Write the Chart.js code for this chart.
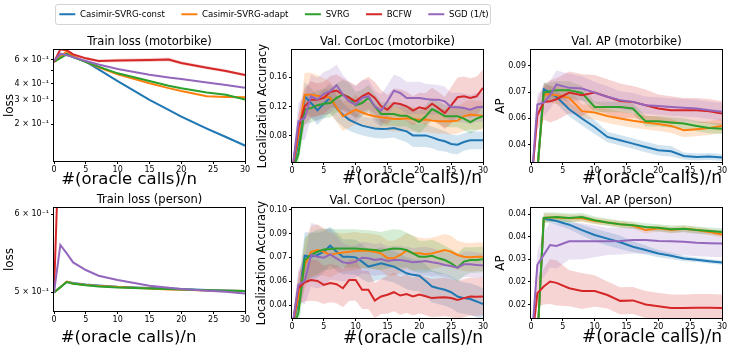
<!DOCTYPE html>
<html>
<head>
<meta charset="utf-8">
<script src="https://cdn.jsdelivr.net/npm/chart.js"></script>
<style>
  html, body { margin: 0; padding: 0; background: #fff; }
  body { width: 731px; height: 349px; position: relative; overflow: hidden; }
  canvas { position: absolute; }
  #legendBox { position: absolute; left: 55px; top: 4px; width: 434px; height: 19px;
               border: 1px solid #d4d4d4; border-radius: 3px; }
</style>
</head>
<body>
<div id="legendBox"></div>
<canvas id="legend"></canvas>
<canvas id="p1"></canvas>
<canvas id="p2"></canvas>
<canvas id="p3"></canvas>
<canvas id="p4"></canvas>
<canvas id="p5"></canvas>
<canvas id="p6"></canvas>
<script>
const seriesNames = ["Casimir-SVRG-const", "Casimir-SVRG-adapt", "SVRG", "BCFW", "SGD (1/t)"];
const seriesColors = ["#1f77b4", "#ff7f0e", "#2ca02c", "#d62728", "#9467bd"];
const bandColors = ["rgba(31,119,180,0.2)", "rgba(255,127,14,0.2)", "rgba(44,160,44,0.2)",
                    "rgba(214,39,40,0.2)", "rgba(148,103,189,0.2)"];

const xTicks = [0, 5, 10, 15, 20, 25, 30];
const lossX = [0, 1, 2, 3, 5, 7, 10, 15, 18, 20, 24, 27, 30];
const corlocX = [0, 1, 2, 3, 4, 5, 6, 7, 8, 9, 10, 11, 12, 13, 14, 15, 16, 17, 18, 19, 20,
                 21, 22, 23, 24, 25, 26, 27, 28, 29, 30];
const apX = [0, 1, 2, 3, 4, 6, 8, 10, 12, 14, 16, 18, 20, 22, 24, 26, 28, 30];

// Train loss (motorbike)
const lmConst = [0.58, 0.66, 0.67, 0.63, 0.583, 0.51, 0.418, 0.302, 0.255, 0.227, 0.185, 0.160, 0.138];
const lmAdapt = [0.58, 0.63, 0.70, 0.64, 0.58, 0.53, 0.469, 0.402, 0.37, 0.352, 0.322, 0.318, 0.316];
const lmSvrg = [0.58, 0.62, 0.66, 0.63, 0.58, 0.535, 0.477, 0.418, 0.385, 0.369, 0.343, 0.33, 0.305];
const lmBcfw = [0.58, 0.72, 0.71, 0.66, 0.617, 0.59, 0.594, 0.6, 0.605, 0.57, 0.526, 0.497, 0.464];
const lmSgd = [0.59, 0.67, 0.65, 0.63, 0.59, 0.555, 0.514, 0.466, 0.445, 0.433, 0.408, 0.39, 0.373];
const lmConstStd = [0.003, 0.004, 0.004, 0.004, 0.004, 0.004, 0.004, 0.003, 0.003, 0.003, 0.003, 0.003, 0.004];
const lmAdaptStd = [0.003, 0.004, 0.004, 0.004, 0.003, 0.003, 0.003, 0.003, 0.003, 0.003, 0.003, 0.003, 0.003];
const lmSvrgStd = [0.003, 0.004, 0.004, 0.004, 0.003, 0.003, 0.003, 0.003, 0.003, 0.003, 0.003, 0.003, 0.003];
const lmBcfwStd = [0.005, 0.012, 0.015, 0.015, 0.015, 0.016, 0.018, 0.02, 0.02, 0.018, 0.015, 0.013, 0.012];
const lmSgdStd = [0.003, 0.004, 0.004, 0.004, 0.003, 0.003, 0.003, 0.003, 0.003, 0.003, 0.003, 0.003, 0.003];
const lmTicks = [0.2, 0.3, 0.4, 0.5, 0.6];
const lmTickLabels = ["2 × 10⁻¹", "3 × 10⁻¹", "4 × 10⁻¹", "", "6 × 10⁻¹"];

// Val. CorLoc (motorbike)
const cmConst = [0.03, 0.07, 0.134, 0.125, 0.115, 0.124, 0.132, 0.118, 0.109, 0.102, 0.0977, 0.094, 0.092,
  0.090, 0.0894, 0.0899, 0.0908, 0.0885, 0.0862, 0.0807, 0.0807, 0.0807, 0.078, 0.0748, 0.0726, 0.0689,
  0.068, 0.0717, 0.0739, 0.0739, 0.0739];
const cmAdapt = [0.03, 0.08, 0.1364, 0.1364, 0.135, 0.134, 0.132, 0.119, 0.1068, 0.111, 0.1159, 0.112, 0.109,
  0.107, 0.1054, 0.1045, 0.103, 0.103, 0.104, 0.103, 0.102, 0.1025, 0.1009, 0.0999, 0.0999, 0.0999,
  0.1009, 0.1068, 0.1091, 0.1082, 0.1077];
const cmSvrg = [0.03, 0.055, 0.116, 0.118, 0.122, 0.124, 0.125, 0.132, 0.1364, 0.1327, 0.1218, 0.125, 0.1319,
  0.1205, 0.110, 0.110, 0.110, 0.1077, 0.1077, 0.1032, 0.099, 0.1068, 0.1168, 0.1123, 0.1068, 0.1068,
  0.1068, 0.1036, 0.099, 0.1036, 0.1068];
const cmBcfw = [0.03, 0.0908, 0.1205, 0.1296, 0.1296, 0.1319, 0.14, 0.1419, 0.1364, 0.1319, 0.1273, 0.1342,
  0.1387, 0.1319, 0.1205, 0.1159, 0.125, 0.1237, 0.1205, 0.1145, 0.119, 0.1168, 0.124, 0.118, 0.1113,
  0.1218, 0.1328, 0.1342, 0.1319, 0.1342, 0.1456];
const cmSgd = [0.03, 0.0999, 0.1045, 0.1342, 0.1296, 0.1374, 0.141, 0.1492, 0.1364, 0.1273, 0.1227, 0.1319,
  0.1342, 0.1205, 0.1145, 0.1273, 0.1419, 0.1387, 0.1319, 0.1319, 0.1319, 0.1305, 0.1296, 0.1296, 0.1273,
  0.1191, 0.1191, 0.1182, 0.1159, 0.1191, 0.1195];
const cmConstStd = [0.005, 0.015, 0.02, 0.02, 0.02, 0.02, 0.02, 0.018, 0.016, 0.015, 0.014, 0.013, 0.013,
  0.013, 0.013, 0.013, 0.013, 0.014, 0.015, 0.016, 0.016, 0.016, 0.015, 0.015, 0.014, 0.013, 0.013, 0.012,
  0.012, 0.012, 0.012];
const cmAdaptStd = [0.005, 0.02, 0.03, 0.03, 0.028, 0.025, 0.022, 0.02, 0.02, 0.02, 0.02, 0.018, 0.017,
  0.017, 0.017, 0.017, 0.017, 0.017, 0.017, 0.017, 0.017, 0.017, 0.017, 0.017, 0.017, 0.018, 0.018, 0.02,
  0.02, 0.02, 0.02];
const cmSvrgStd = [0.005, 0.015, 0.02, 0.02, 0.02, 0.02, 0.02, 0.02, 0.02, 0.02, 0.018, 0.018, 0.018,
  0.017, 0.016, 0.016, 0.016, 0.015, 0.015, 0.015, 0.015, 0.015, 0.015, 0.015, 0.015, 0.015, 0.015, 0.016,
  0.016, 0.016, 0.016];
const cmBcfwStd = [0.005, 0.02, 0.025, 0.025, 0.022, 0.022, 0.022, 0.022, 0.022, 0.022, 0.022, 0.022, 0.022,
  0.022, 0.022, 0.02, 0.02, 0.02, 0.02, 0.02, 0.02, 0.022, 0.022, 0.022, 0.022, 0.025, 0.027, 0.027,
  0.027, 0.027, 0.025];
const cmSgdStd = [0.005, 0.025, 0.03, 0.03, 0.03, 0.03, 0.03, 0.028, 0.027, 0.026, 0.025, 0.024, 0.023,
  0.022, 0.022, 0.022, 0.022, 0.022, 0.022, 0.022, 0.022, 0.021, 0.021, 0.02, 0.02, 0.02, 0.02, 0.02,
  0.02, 0.02, 0.02];
const cmTicks = [0.08, 0.12, 0.16];
const cmTickLabels = ["0.08", "0.12", "0.16"];

// Val. AP (motorbike)
const amConst = [0.02, 0.03, 0.0767, 0.0745, 0.0723, 0.0652, 0.0599, 0.0551, 0.0494, 0.0475, 0.0456, 0.0437,
  0.0418, 0.0412, 0.0385, 0.038, 0.0383, 0.0376];
const amAdapt = [0.02, 0.03, 0.0736, 0.0738, 0.0732, 0.0717, 0.0641, 0.0633, 0.0614, 0.0599, 0.0586, 0.0576,
  0.0568, 0.0557, 0.0532, 0.0538, 0.0545, 0.0557];
const amSvrg = [0.02, 0.03, 0.0747, 0.0755, 0.0761, 0.0761, 0.0745, 0.0665, 0.0665, 0.0665, 0.0656, 0.0583,
  0.0583, 0.0576, 0.057, 0.0557, 0.0545, 0.0541];
const amBcfw = [0.02, 0.0618, 0.0694, 0.0697, 0.0709, 0.0747, 0.0732, 0.0747, 0.0723, 0.0699, 0.0694, 0.0675,
  0.0656, 0.0646, 0.0646, 0.0646, 0.064, 0.0627];
const amSgd = [0.02, 0.0679, 0.069, 0.0733, 0.0793, 0.0774, 0.077, 0.0747, 0.0723, 0.0704, 0.0694, 0.0675,
  0.0671, 0.0665, 0.066, 0.0656, 0.0646, 0.0637];
const amConstStd = [0.002, 0.003, 0.004, 0.004, 0.004, 0.004, 0.004, 0.004, 0.003, 0.003, 0.003, 0.003,
  0.003, 0.003, 0.002, 0.002, 0.002, 0.002];
const amAdaptStd = [0.002, 0.003, 0.005, 0.005, 0.005, 0.005, 0.004, 0.004, 0.004, 0.004, 0.004, 0.004,
  0.004, 0.004, 0.004, 0.004, 0.004, 0.004];
const amSvrgStd = [0.002, 0.003, 0.005, 0.005, 0.005, 0.005, 0.004, 0.003, 0.003, 0.003, 0.003, 0.003,
  0.003, 0.003, 0.003, 0.003, 0.003, 0.003];
const amBcfwStd = [0.003, 0.008, 0.01, 0.012, 0.012, 0.012, 0.012, 0.01, 0.01, 0.01, 0.009, 0.009,
  0.008, 0.008, 0.007, 0.007, 0.007, 0.007];
const amSgdStd = [0.003, 0.006, 0.008, 0.008, 0.008, 0.008, 0.007, 0.006, 0.006, 0.005, 0.005, 0.005,
  0.005, 0.005, 0.005, 0.005, 0.005, 0.005];
const amTicks = [0.045, 0.06, 0.075, 0.09];
const amTickLabels = ["0.04", "0.06", "0.07", "0.09"];

// Train loss (person)
const lpConst = [0.5, 0.506, 0.5126, 0.511, 0.5092, 0.508, 0.5066, 0.5052, 0.5045, 0.504, 0.5028, 0.5022, 0.5016];
const lpAdapt = [0.5, 0.506, 0.5128, 0.5105, 0.5088, 0.5075, 0.5062, 0.5045, 0.5035, 0.5032, 0.5022, 0.502, 0.5016];
const lpSvrg = [0.5, 0.506, 0.5122, 0.5102, 0.5084, 0.507, 0.5058, 0.5045, 0.504, 0.5035, 0.5025, 0.502, 0.5016];
const lpBcfw = [0.5, 0.78, 0.77, 0.76, 0.75, 0.74, 0.73, 0.72, 0.71, 0.71, 0.70, 0.70, 0.70];
const lpSgd = [0.5, 0.5586, 0.5477, 0.5363, 0.5268, 0.5199, 0.5147, 0.5078, 0.5055, 0.5039, 0.502, 0.5008, 0.4988];
const lpConstStd = [0.0004, 0.0005, 0.0005, 0.0005, 0.0005, 0.0005, 0.0005, 0.0005, 0.0005, 0.0005, 0.0005, 0.0005, 0.0005];
const lpAdaptStd = [0.0004, 0.0005, 0.0005, 0.0005, 0.0005, 0.0005, 0.0005, 0.0005, 0.0005, 0.0005, 0.0005, 0.0005, 0.0005];
const lpSvrgStd = [0.0004, 0.0005, 0.0005, 0.0005, 0.0005, 0.0005, 0.0005, 0.0005, 0.0005, 0.0005, 0.0005, 0.0005, 0.0005];
const lpBcfwStd = [0.002, 0.01, 0.01, 0.01, 0.01, 0.01, 0.01, 0.01, 0.01, 0.01, 0.01, 0.01, 0.01];
const lpSgdStd = [0.0004, 0.001, 0.001, 0.001, 0.001, 0.001, 0.001, 0.001, 0.001, 0.001, 0.001, 0.001, 0.001];
const lpTicks = [0.5, 0.6];
const lpTickLabels = ["5 × 10⁻¹", "6 × 10⁻¹"];

// Val. CorLoc (person)
const cpConst = [0.025, 0.0423, 0.071, 0.0704, 0.0715, 0.0735, 0.0773, 0.0735, 0.0704, 0.0704, 0.07, 0.0673,
  0.0642, 0.0652, 0.0663, 0.0652, 0.0642, 0.0621, 0.06, 0.059, 0.0585, 0.0552, 0.0517, 0.0506, 0.0496,
  0.0481, 0.0454, 0.0444, 0.0438, 0.0423, 0.0406];
const cpAdapt = [0.025, 0.045, 0.0652, 0.0735, 0.0746, 0.0735, 0.0715, 0.0725, 0.0731, 0.0735, 0.074, 0.0742,
  0.0742, 0.0735, 0.0725, 0.0694, 0.0694, 0.0715, 0.0742, 0.0725, 0.0725, 0.0719, 0.0725, 0.0735, 0.0746,
  0.0735, 0.0715, 0.0704, 0.07, 0.0704, 0.0704];
const cpSvrg = [0.025, 0.035, 0.0683, 0.0715, 0.0735, 0.075, 0.0752, 0.0756, 0.0756, 0.0756, 0.0756, 0.0752,
  0.075, 0.0746, 0.074, 0.075, 0.0756, 0.0754, 0.0746, 0.0725, 0.0704, 0.0704, 0.071, 0.0694, 0.0683,
  0.0663, 0.0635, 0.0673, 0.0683, 0.0683, 0.0688];
const cpBcfw = [0.025, 0.0506, 0.0544, 0.0558, 0.0552, 0.0527, 0.0538, 0.0531, 0.0506, 0.0558, 0.0558, 0.0496,
  0.0496, 0.0429, 0.0454, 0.0465, 0.0481, 0.046, 0.047, 0.0454, 0.0467, 0.0456, 0.0444, 0.0448, 0.045,
  0.0444, 0.0433, 0.0444, 0.0454, 0.0452, 0.0454];
const cpSgd = [0.025, 0.0527, 0.0552, 0.0715, 0.0704, 0.0698, 0.0719, 0.0694, 0.0669, 0.0663, 0.0673, 0.0698,
  0.0694, 0.0683, 0.069, 0.0677, 0.0683, 0.0683, 0.0677, 0.0669, 0.0673, 0.0677, 0.0669, 0.0663, 0.0652,
  0.0646, 0.0635, 0.0656, 0.0656, 0.0652, 0.0648];
const cpConstStd = [0.003, 0.01, 0.015, 0.015, 0.014, 0.013, 0.012, 0.012, 0.011, 0.011, 0.011, 0.011, 0.01,
  0.01, 0.01, 0.01, 0.01, 0.01, 0.01, 0.01, 0.01, 0.01, 0.01, 0.01, 0.01, 0.01, 0.01, 0.01, 0.01, 0.01, 0.01];
const cpAdaptStd = [0.003, 0.01, 0.015, 0.016, 0.016, 0.015, 0.014, 0.013, 0.012, 0.012, 0.012, 0.011, 0.011,
  0.011, 0.011, 0.011, 0.011, 0.011, 0.011, 0.011, 0.01, 0.01, 0.01, 0.01, 0.01, 0.01, 0.009, 0.009, 0.009,
  0.009, 0.009];
const cpSvrgStd = [0.003, 0.01, 0.014, 0.014, 0.014, 0.013, 0.013, 0.012, 0.012, 0.012, 0.012, 0.012, 0.012,
  0.012, 0.012, 0.012, 0.012, 0.012, 0.011, 0.011, 0.01, 0.01, 0.01, 0.01, 0.009, 0.009, 0.009, 0.009,
  0.008, 0.008, 0.008];
const cpBcfwStd = [0.003, 0.01, 0.012, 0.013, 0.013, 0.012, 0.012, 0.012, 0.012, 0.013, 0.013, 0.012, 0.012,
  0.011, 0.011, 0.012, 0.012, 0.012, 0.012, 0.012, 0.012, 0.012, 0.012, 0.012, 0.012, 0.012, 0.012, 0.012,
  0.012, 0.012, 0.012];
const cpSgdStd = [0.003, 0.01, 0.015, 0.02, 0.02, 0.018, 0.016, 0.014, 0.012, 0.011, 0.01, 0.01, 0.01,
  0.01, 0.01, 0.009, 0.009, 0.009, 0.009, 0.009, 0.009, 0.009, 0.009, 0.008, 0.008, 0.008, 0.008, 0.008,
  0.008, 0.008, 0.008];
const cpTicks = [0.04, 0.055, 0.07, 0.085, 0.1];
const cpTickLabels = ["0.04", "0.06", "0.07", "0.09", "0.10"];

// Val. AP (person)
const apConst = [0.01, 0.012, 0.039, 0.0388, 0.0385, 0.0377, 0.0365, 0.0354, 0.0346, 0.0338, 0.0328, 0.0321,
  0.0313, 0.0308, 0.0302, 0.0299, 0.0296, 0.0293];
const apAdapt = [0.01, 0.012, 0.0392, 0.0393, 0.0393, 0.0391, 0.0391, 0.0385, 0.0382, 0.0378, 0.0375, 0.0365,
  0.0369, 0.0365, 0.0368, 0.0365, 0.0361, 0.0355];
const apSvrg = [0.01, 0.012, 0.0392, 0.0393, 0.0394, 0.0392, 0.0394, 0.0387, 0.0382, 0.0378, 0.0376, 0.0372,
  0.037, 0.0367, 0.0368, 0.0365, 0.0363, 0.0361];
const apBcfw = [0.01, 0.0225, 0.024, 0.0251, 0.0248, 0.0236, 0.023, 0.023, 0.0221, 0.0208, 0.0209, 0.02,
  0.0196, 0.0192, 0.0192, 0.0193, 0.0193, 0.0192];
const apSgd = [0.01, 0.0288, 0.031, 0.0332, 0.033, 0.034, 0.034, 0.034, 0.034, 0.0341, 0.0343, 0.0343,
  0.0341, 0.034, 0.0339, 0.0337, 0.0336, 0.0335];
const apConstStd = [0.0005, 0.001, 0.0005, 0.0006, 0.0008, 0.001, 0.0012, 0.0014, 0.0015, 0.0015, 0.0012,
  0.001, 0.0008, 0.0007, 0.0006, 0.0005, 0.0005, 0.0005];
const apAdaptStd = [0.0005, 0.001, 0.001, 0.0009, 0.0008, 0.0008, 0.0008, 0.0007, 0.0007, 0.0007, 0.0007,
  0.0007, 0.0007, 0.0007, 0.0007, 0.0007, 0.0007, 0.0007];
const apSvrgStd = [0.0005, 0.001, 0.0012, 0.0011, 0.001, 0.001, 0.0009, 0.0008, 0.0008, 0.0008, 0.0008,
  0.0008, 0.0008, 0.0008, 0.0008, 0.0008, 0.0008, 0.0008];
const apBcfwStd = [0.001, 0.003, 0.004, 0.005, 0.005, 0.004, 0.004, 0.0035, 0.003, 0.003, 0.003, 0.003,
  0.003, 0.003, 0.003, 0.003, 0.003, 0.003];
const apSgdStd = [0.001, 0.003, 0.005, 0.005, 0.005, 0.004, 0.004, 0.0035, 0.003, 0.003, 0.003, 0.003,
  0.003, 0.003, 0.003, 0.003, 0.003, 0.003];
const apTicks = [0.02, 0.025, 0.03, 0.035, 0.04];
const apTickLabels = ["0.02", "0.02", "0.03", "0.04", "0.04"];

const FONT = "'DejaVu Sans', sans-serif";
const TITLE_SIZE = 11.5;
const TICK_SIZE = 8;
const XLABEL = "#(oracle calls)/n";

const panels = [
  { id: "p1", title: "Train loss (motorbike)", ylabel: "loss", ylabelSize: 12, x: lossX,
    means: [lmConst, lmAdapt, lmSvrg, lmBcfw, lmSgd], stds: [lmConstStd, lmAdaptStd, lmSvrgStd, lmBcfwStd, lmSgdStd],
    yType: "logarithmic", yMin: 0.106, yMax: 0.712, yTicks: lmTicks, yTickLabels: lmTickLabels,
    plot: [54, 50, 245, 161], titleY: 42.5, xlabelX: 129, xlabelY: 180, xlabelSize: 16.5, ylabelX: 10 },
  { id: "p2", title: "Val. CorLoc (motorbike)", ylabel: "Localization Accuracy", ylabelSize: 11.5, x: corlocX,
    means: [cmConst, cmAdapt, cmSvrg, cmBcfw, cmSgd], stds: [cmConstStd, cmAdaptStd, cmSvrgStd, cmBcfwStd, cmSgdStd],
    yType: "linear", yMin: 0.0443, yMax: 0.1975, yTicks: cmTicks, yTickLabels: cmTickLabels,
    plot: [292, 50, 483, 162], titleY: 42.5, xlabelX: 412, xlabelY: 178.5, xlabelSize: 17, ylabelX: 263 },
  { id: "p3", title: "Val. AP (motorbike)", ylabel: "AP", ylabelSize: 12, x: apX,
    means: [amConst, amAdapt, amSvrg, amBcfw, amSgd], stds: [amConstStd, amAdaptStd, amSvrgStd, amBcfwStd, amSgdStd],
    yType: "linear", yMin: 0.0351, yMax: 0.099, yTicks: amTicks, yTickLabels: amTickLabels,
    plot: [531, 50, 722, 162], titleY: 42.5, xlabelX: 652, xlabelY: 178.5, xlabelSize: 17, ylabelX: 501 },
  { id: "p4", title: "Train loss (person)", ylabel: "loss", ylabelSize: 12, x: lossX,
    means: [lpConst, lpAdapt, lpSvrg, lpBcfw, lpSgd], stds: [lpConstStd, lpAdaptStd, lpSvrgStd, lpBcfwStd, lpSgdStd],
    yType: "logarithmic", yMin: 0.4787, yMax: 0.609, yTicks: lpTicks, yTickLabels: lpTickLabels,
    plot: [54, 208, 245, 311], titleY: 200, xlabelX: 128.5, xlabelY: 338, xlabelSize: 16.5, ylabelX: 10 },
  { id: "p5", title: "Val. CorLoc (person)", ylabel: "Localization Accuracy", ylabelSize: 11.5, x: corlocX,
    means: [cpConst, cpAdapt, cpSvrg, cpBcfw, cpSgd], stds: [cpConstStd, cpAdaptStd, cpSvrgStd, cpBcfwStd, cpSgdStd],
    yType: "linear", yMin: 0.0319, yMax: 0.101, yTicks: cpTicks, yTickLabels: cpTickLabels,
    plot: [292, 208, 483, 318], titleY: 201, xlabelX: 413, xlabelY: 339, xlabelSize: 17, ylabelX: 262 },
  { id: "p6", title: "Val. AP (person)", ylabel: "AP", ylabelSize: 12, x: apX,
    means: [apConst, apAdapt, apSvrg, apBcfw, apSgd], stds: [apConstStd, apAdaptStd, apSvrgStd, apBcfwStd, apSgdStd],
    yType: "linear", yMin: 0.017, yMax: 0.0414, yTicks: apTicks, yTickLabels: apTickLabels,
    plot: [531, 208, 722, 318], titleY: 201, xlabelX: 652, xlabelY: 338, xlabelSize: 17, ylabelX: 501 }
];

// black box round the plot area (matplotlib spines) and the x label,
// which sits off-centre in the original figure
const framePlugin = {
  id: "frame",
  afterDraw(chart) {
    const { ctx, chartArea: a } = chart;
    const l = Math.round(a.left), t = Math.round(a.top);
    const r = Math.round(a.right), b = Math.round(a.bottom);
    ctx.save();
    ctx.strokeStyle = "#000";
    ctx.lineWidth = 1;
    ctx.strokeRect(l - 0.5, t - 0.5, r - l + 1, b - t + 1);
    const lab = chart.options.plugins.frame;
    ctx.fillStyle = "#000";
    ctx.font = lab.size + "px " + FONT;
    ctx.textAlign = "center";
    ctx.textBaseline = "middle";
    ctx.fillText(lab.text, lab.x, lab.y);
    ctx.restore();
  }
};

function buildPanel(p) {
  const canvas = document.getElementById(p.id);
  const titleLh = TITLE_SIZE * 1.2, xlLh = p.xlabelSize * 1.2, ylLh = p.ylabelSize * 1.2;
  const [pl, pt, pr, pb] = p.plot;
  const left = Math.round(p.ylabelX - ylLh / 2);
  const L = pl - left;
  const top = Math.floor(p.titleY - titleLh / 2 - 2);
  const padTop = p.titleY - titleLh / 2 - top;
  const padBottom = Math.max(0, pt - (p.titleY + titleLh / 2));
  const bottom = Math.round(p.xlabelY + xlLh / 2);
  const B = bottom - pb;
  canvas.width = pr - pl + 2 * L;
  canvas.height = bottom - top;
  canvas.style.left = left + "px";
  canvas.style.top = top + "px";

  const datasets = [];
  p.means.forEach((m, i) => {
    datasets.push({
      label: seriesNames[i],
      data: p.x.map((xv, k) => ({ x: xv, y: m[k] })),
      borderColor: seriesColors[i], borderWidth: 2, pointRadius: 0, fill: false, order: 5 - i
    });
  });
  p.means.forEach((m, i) => {
    const s = p.stds[i];
    datasets.push({
      data: p.x.map((xv, k) => ({ x: xv, y: m[k] + s[k] })),
      borderColor: "rgba(0,0,0,0)", borderWidth: 0, pointRadius: 0,
      backgroundColor: bandColors[i], fill: "+1", order: 20 - i
    });
    datasets.push({
      data: p.x.map((xv, k) => ({ x: xv, y: m[k] - s[k] })),
      borderColor: "rgba(0,0,0,0)", borderWidth: 0, pointRadius: 0, fill: false, order: 20 - i
    });
  });

  const tickFont = { family: FONT, size: TICK_SIZE };
  const gridOpts = { drawOnChartArea: false, drawTicks: true, tickLength: 3, color: "#000" };

  new Chart(canvas, {
    type: "line",
    data: { datasets: datasets },
    options: {
      responsive: false,
      animation: false,
      events: [],
      layout: { padding: { left: 0, right: L, top: 0, bottom: 0 } },
      plugins: {
        legend: { display: false },
        tooltip: { enabled: false },
        title: {
          display: true, text: p.title, color: "#000", fullSize: false,
          font: { family: FONT, size: TITLE_SIZE, weight: "normal", lineHeight: 1.2 },
          padding: { top: padTop, bottom: padBottom }
        },
        frame: { text: XLABEL, size: p.xlabelSize, x: p.xlabelX - left, y: p.xlabelY - top }
      },
      scales: {
        x: {
          type: "linear", min: 0, max: 30,
          afterFit: s => { s.height = B; },
          afterBuildTicks: s => { s.ticks = xTicks.map(v => ({ value: v })); },
          ticks: { font: tickFont, color: "#000", padding: 1, maxRotation: 0, autoSkip: false },
          grid: gridOpts,
          border: { display: false }
        },
        y: {
          type: p.yType, min: p.yMin, max: p.yMax,
          afterFit: s => { s.width = L; },
          afterBuildTicks: s => { s.ticks = p.yTicks.map(v => ({ value: v })); },
          ticks: { font: tickFont, color: "#000", padding: 2, autoSkip: false,
                   callback: (v, i) => p.yTickLabels[i] },
          grid: gridOpts,
          border: { display: false },
          title: { display: true, text: p.ylabel, color: "#000",
                   font: { family: FONT, size: p.ylabelSize, lineHeight: 1.2 }, padding: 0 }
        }
      }
    },
    plugins: [framePlugin]
  });
}

panels.forEach(buildPanel);

// legend strip on top
const LEGEND_SIZE = 9.5;
const LEGEND_PAD = 16.5;
const legendCanvas = document.getElementById("legend");
legendCanvas.width = 600;
legendCanvas.height = 120;
legendCanvas.style.left = (273.5 - 300) + "px";
legendCanvas.style.top = (14.5 - LEGEND_PAD - LEGEND_SIZE / 2) + "px";
new Chart(legendCanvas, {
  type: "line",
  data: {
    datasets: seriesNames.map((n, i) => ({
      label: n, data: [], borderColor: seriesColors[i], backgroundColor: seriesColors[i], borderWidth: 2
    }))
  },
  options: {
    responsive: false,
    animation: false,
    events: [],
    scales: { x: { display: false }, y: { display: false } },
    plugins: {
      tooltip: { enabled: false },
      legend: {
        position: "top",
        labels: {
          usePointStyle: true, pointStyle: "line", pointStyleWidth: 16, padding: LEGEND_PAD, color: "#000",
          font: { family: "'DejaVu Sans Condensed', 'DejaVu Sans'", size: LEGEND_SIZE }
        }
      }
    }
  }
});
</script>
</body>
</html>
